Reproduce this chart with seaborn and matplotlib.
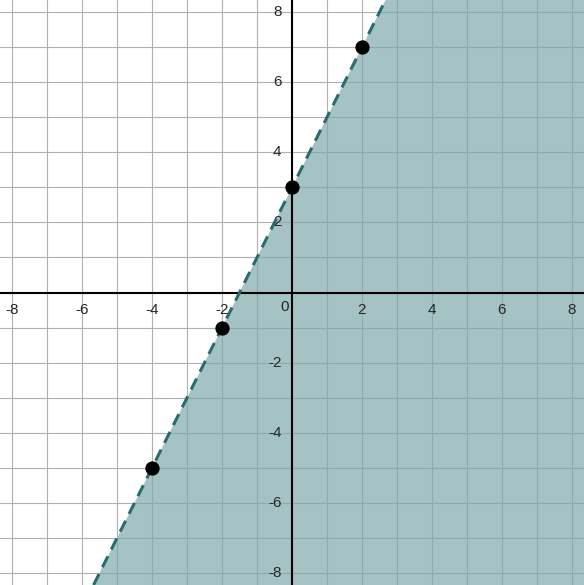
import matplotlib.pyplot as plt
import numpy as np
import seaborn as sns

# Inequality y < 2x + 3, boundary dashed
slope = 2
intercept = 3
point_x = [-4, -2, 0, 2]
point_y = [-5, -1, 3, 7]
tick_values = [-8, -6, -4, -2, 2, 4, 6, 8]
lim = 8.35

sns.set_style("white")
plt.rcParams["font.family"] = ["Liberation Sans", "DejaVu Sans"]

fig = plt.figure(figsize=(5.84, 5.85), dpi=100)
ax = fig.add_axes([0, 0, 1, 1])
ax.set_xlim(-lim, lim)
ax.set_ylim(-lim, lim)

# grid
for v in range(-8, 9):
    ax.axvline(v, color="#b0b0b0", linewidth=0.8, zorder=0)
    ax.axhline(v, color="#b0b0b0", linewidth=0.8, zorder=0)

# shaded region
ys = np.array([-lim, lim])
xs = (ys - intercept) / slope
ax.fill_betweenx(ys, xs, lim, color="#7fa9ad", alpha=0.7, zorder=1, linewidth=0)

ax.axhline(0, color="black", linewidth=1.5, zorder=2)
ax.axvline(0, color="black", linewidth=1.5, zorder=2)

sns.lineplot(x=xs, y=ys, ax=ax, color="#2a6b6e", linewidth=2.2,
             linestyle=(0, (4, 2.5)), zorder=3)
sns.scatterplot(x=point_x, y=point_y, ax=ax, color="black", s=90, zorder=4,
                edgecolor="black")

for v in tick_values:
    ax.text(v, -0.3, str(v), ha="center", va="top", fontsize=11, zorder=5)
    ax.text(-0.3, v, str(v), ha="right", va="center", fontsize=11, zorder=5)
ax.text(-0.1, -0.2, "0", ha="right", va="top", fontsize=11, zorder=5)

ax.set_xticks([])
ax.set_yticks([])
for s in ax.spines.values():
    s.set_visible(False)

plt.savefig("out.png", dpi=100)
